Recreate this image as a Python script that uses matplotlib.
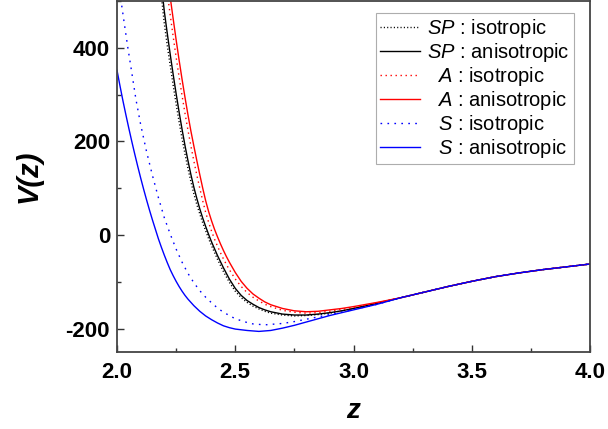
import matplotlib
matplotlib.use('Agg')
import matplotlib.pyplot as plt
from matplotlib.ticker import MultipleLocator

plt.rcParams['font.family'] = ['Liberation Sans', 'DejaVu Sans']
plt.rcParams['mathtext.fontset'] = 'custom'
plt.rcParams['mathtext.it'] = 'Liberation Sans:italic'
plt.rcParams['mathtext.rm'] = 'Liberation Sans'
plt.rcParams['axes.unicode_minus'] = False

# common tail, where all six curves run together
tail_z = [3.20, 3.30, 3.40, 3.50, 3.60, 3.70, 3.80, 3.90, 4.00]
tail_v = [-134, -122, -110, -99, -89, -81, -74, -68, -62]

# S : anisotropic (blue solid)
s_aniso_z = [2.00, 2.0125, 2.025, 2.0375, 2.05, 2.0625, 2.075, 2.0875, 2.10, 2.1125,
             2.125, 2.1375, 2.15, 2.1625, 2.175, 2.1875, 2.20, 2.2125, 2.225, 2.2375,
             2.25, 2.2625, 2.275, 2.2875, 2.30, 2.3125, 2.325, 2.3375, 2.35, 2.3625,
             2.375, 2.3875, 2.40, 2.425, 2.45, 2.475, 2.50, 2.55, 2.60, 2.65,
             2.70, 2.75, 2.80, 2.85, 2.90, 2.95, 3.00, 3.10] + tail_z
s_aniso_v = [352, 319, 287, 257, 228, 200, 173, 147, 122, 98,
             75, 53, 32, 12, -8, -26, -43, -59, -74, -87,
             -99, -110, -120, -129, -137, -144, -151, -157, -163, -168,
             -173, -177, -181, -188, -194, -198, -201, -204, -206, -204,
             -199, -193, -186, -179, -172, -166, -160, -148] + tail_v

# S : isotropic (blue dotted)
s_iso_z = [2.02, 2.03, 2.045, 2.06, 2.08, 2.10, 2.125, 2.15, 2.175, 2.20,
           2.225, 2.25, 2.275, 2.30, 2.325, 2.35, 2.375, 2.40, 2.425, 2.45,
           2.475, 2.50, 2.525, 2.55, 2.575, 2.60, 2.625, 2.65, 2.70, 2.75,
           2.80, 2.85, 2.90, 2.95, 3.00, 3.10] + tail_z
s_iso_v = [490, 455, 403, 355, 290, 236, 178, 127, 80, 37,
           2, -30, -58, -82, -102, -119, -133, -145, -156, -165,
           -172, -179, -183, -187, -190, -191, -192, -191, -189, -185,
           -180, -175, -170, -165, -159, -148] + tail_v

# SP : anisotropic (black solid)
sp_aniso_z = [2.19, 2.20, 2.2125, 2.225, 2.2375, 2.25, 2.2625, 2.275, 2.2875, 2.30,
              2.3125, 2.325, 2.3375, 2.35, 2.3625, 2.375, 2.3875, 2.40, 2.425, 2.45,
              2.475, 2.50, 2.525, 2.55, 2.575, 2.60, 2.625, 2.65, 2.70, 2.75,
              2.80, 2.85, 2.90, 2.95, 3.00, 3.10] + tail_z
sp_aniso_v = [525, 478, 431, 386, 343, 302, 263, 226, 191, 159,
              129, 102, 78, 56, 36, 18, 1, -15, -44, -70,
              -94, -114, -129, -140, -148, -155, -160, -164, -169, -171,
              -171, -169, -166, -162, -157, -146] + tail_v

# SP : isotropic (black dotted)
sp_iso_z = [2.185, 2.19, 2.20, 2.2125, 2.225, 2.2375, 2.25, 2.2625, 2.275, 2.2875,
            2.30, 2.3125, 2.325, 2.3375, 2.35, 2.3625, 2.375, 2.3875, 2.40, 2.425,
            2.45, 2.475, 2.50, 2.525, 2.55, 2.575, 2.60, 2.625, 2.65, 2.70,
            2.75, 2.80, 2.85, 2.90, 2.95, 3.00, 3.10] + tail_z
sp_iso_v = [523, 499, 452, 405, 362, 320, 280, 242, 206, 173,
            142, 114, 88, 65, 45, 26, 9, -8, -23, -52,
            -78, -101, -120, -134, -144, -152, -158, -163, -167, -171,
            -173, -172, -170, -167, -162, -157, -146] + tail_v

# A : anisotropic (red solid)
a_aniso_z = [2.22, 2.225, 2.2375, 2.25, 2.2625, 2.275, 2.2875, 2.30, 2.3125, 2.325,
             2.3375, 2.35, 2.3625, 2.375, 2.3875, 2.40, 2.4125, 2.425, 2.4375, 2.45,
             2.4625, 2.475, 2.4875, 2.50, 2.525, 2.55, 2.575, 2.60, 2.625, 2.65,
             2.70, 2.75, 2.80, 2.85, 2.90, 2.95, 3.00, 3.10] + tail_z
a_aniso_v = [530, 508, 462, 417, 374, 333, 294, 257, 222, 190,
             159, 129, 100, 73, 50, 30, 12, -4, -19, -33,
             -46, -58, -69, -80, -99, -114, -126, -135, -143, -149,
             -157, -162, -164, -163, -160, -157, -153, -144] + tail_v

# A : isotropic (red dotted)
a_iso_z = [2.2125, 2.225, 2.2375, 2.25, 2.2625, 2.275, 2.2875, 2.30, 2.3125, 2.325,
           2.3375, 2.35, 2.3625, 2.375, 2.3875, 2.40, 2.4125, 2.425, 2.4375, 2.45,
           2.4625, 2.475, 2.50, 2.525, 2.55, 2.575, 2.60, 2.625, 2.65, 2.70,
           2.75, 2.80, 2.85, 2.90, 2.95, 3.00, 3.10] + tail_z
a_iso_v = [518, 470, 424, 380, 338, 298, 260, 224, 190, 158,
           128, 100, 73, 48, 27, 8, -9, -24, -38, -51,
           -63, -74, -94, -110, -123, -133, -141, -148, -153, -161,
           -165, -167, -166, -163, -159, -155, -145] + tail_v

x_ticks = [2.0, 2.5, 3.0, 3.5, 4.0]
y_ticks = [-200, 0, 200, 400]

fig = plt.figure(figsize=(6.08, 4.29), dpi=100)
ax = fig.add_axes([117 / 608, 77 / 429, 473 / 608, 351 / 429])

ax.plot(sp_iso_z, sp_iso_v, color='black', lw=1.0, ls=(0, (0.8, 1.6)),
        label=r'$\mathit{SP}$ : isotropic')
ax.plot(sp_aniso_z, sp_aniso_v, color='black', lw=1.0,
        label=r'$\mathit{SP}$ : anisotropic')
ax.plot(a_iso_z, a_iso_v, color='red', lw=1.0, ls=(0, (1, 2.6)),
        label=r'  $\mathit{A}$ : isotropic')
ax.plot(a_aniso_z, a_aniso_v, color='red', lw=1.0,
        label=r'  $\mathit{A}$ : anisotropic')
ax.plot(s_iso_z, s_iso_v, color='blue', lw=1.0, ls=(0, (1.2, 3.8)),
        label=r'  $\mathit{S}$ : isotropic')
ax.plot(s_aniso_z, s_aniso_v, color='blue', lw=1.0,
        label=r'  $\mathit{S}$ : anisotropic')

ax.set_xlim(2.0, 4.0)
ax.set_ylim(-250, 500)
ax.set_xticks(x_ticks)
ax.set_xticklabels(['%.1f' % t for t in x_ticks])
ax.set_yticks(y_ticks)
ax.xaxis.set_minor_locator(MultipleLocator(0.25))
ax.yaxis.set_minor_locator(MultipleLocator(100))
ax.tick_params(which='both', direction='in', color='#333333', width=1.0,
               labelsize=16)
ax.tick_params(which='major', length=5)
ax.tick_params(which='minor', length=3)
ax.tick_params(axis='x', pad=7)
ax.tick_params(axis='y', pad=5)
for lab in ax.get_xticklabels() + ax.get_yticklabels():
    lab.set_fontweight('bold')

for sp in ax.spines.values():
    sp.set_color('#444444')
    sp.set_linewidth(1.3)

ax.set_xlabel('z', fontsize=20, fontweight='bold', fontstyle='italic')
ax.set_ylabel('V(z)', fontsize=21, fontweight='bold', fontstyle='italic')
ax.xaxis.set_label_coords(0.5, -0.13)
ax.yaxis.set_label_coords(-0.158, 0.5)

leg = ax.legend(loc='upper right', bbox_to_anchor=(0.966, 0.966), borderaxespad=0,
                fontsize=14.5, frameon=True, fancybox=False, edgecolor='#999999',
                handlelength=2.0, handletextpad=0.35, labelspacing=0.05,
                borderpad=0.2)
leg.get_frame().set_linewidth(0.8)

fig.savefig('out.png', dpi=100)
